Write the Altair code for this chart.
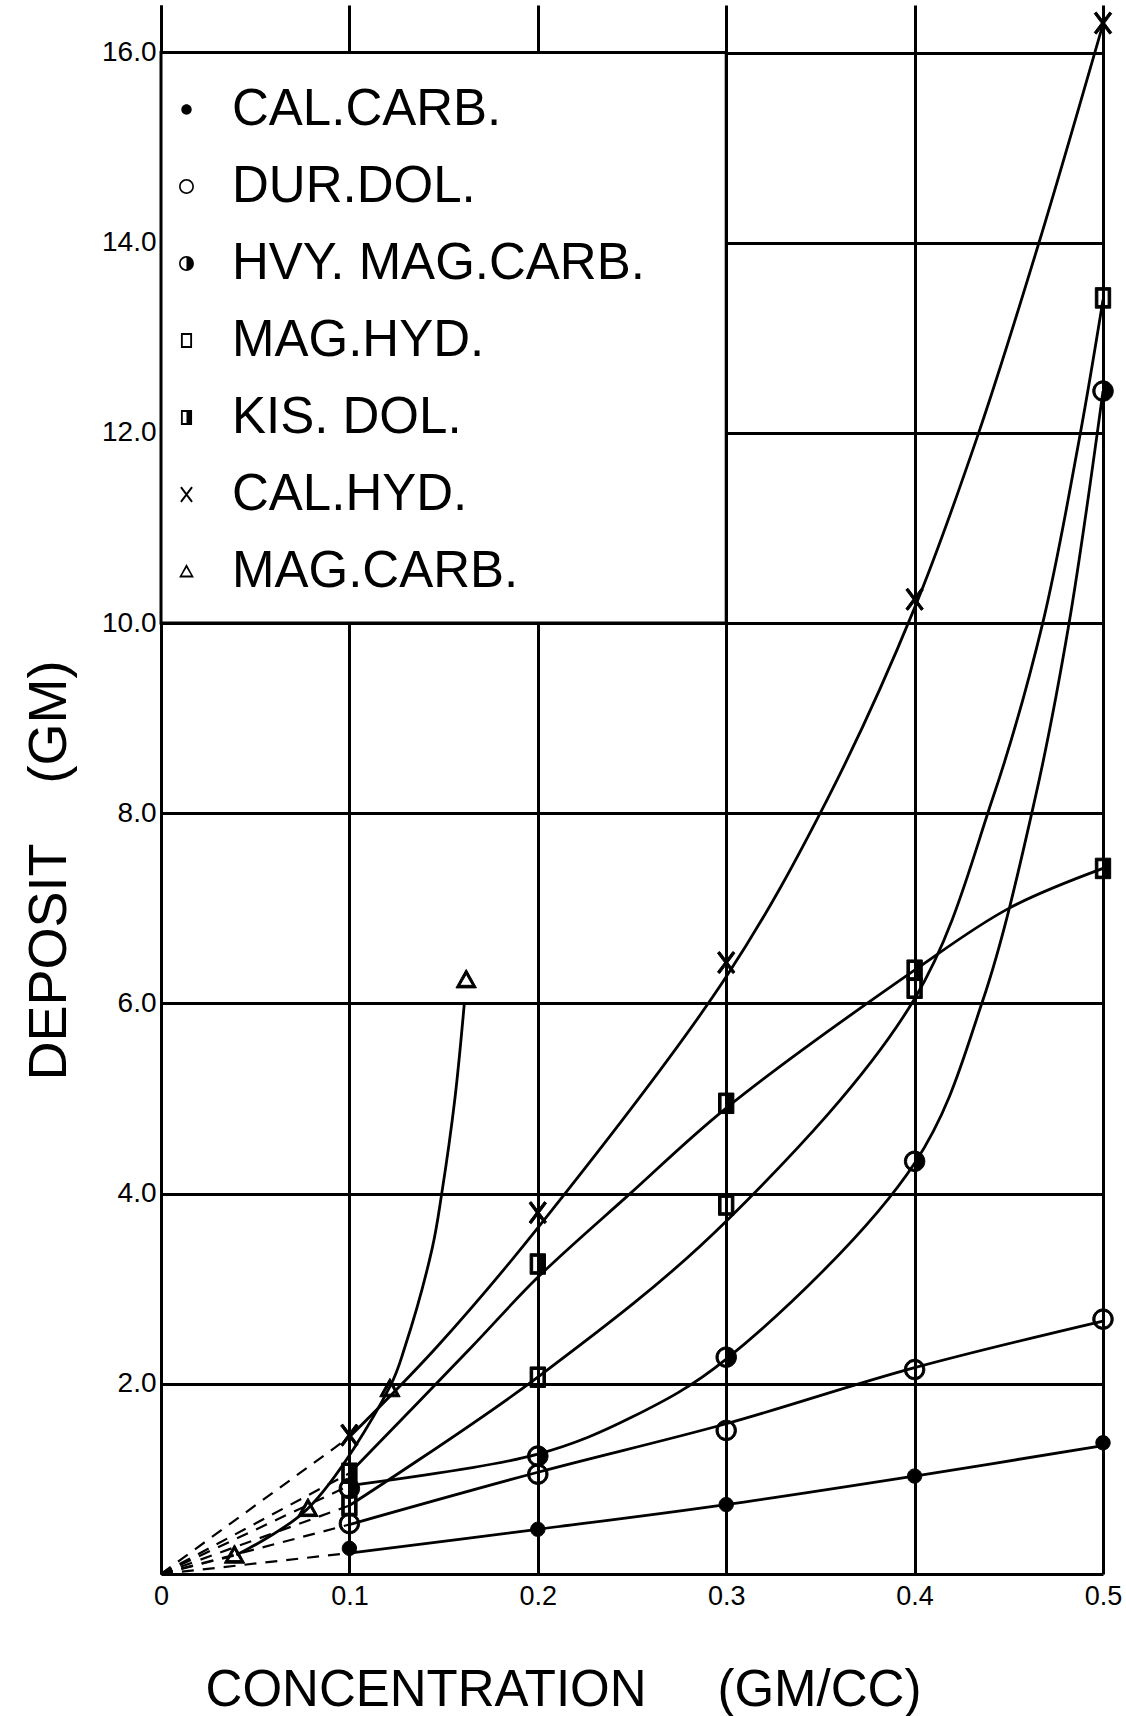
import altair as alt
import pandas as pd

# ---- data ----
series = ["CAL.CARB.", "DUR.DOL.", "HVY. MAG.CARB.", "MAG.HYD.", "KIS. DOL.", "CAL.HYD.", "MAG.CARB."]

conc = [0.1, 0.2, 0.3, 0.4, 0.5]
cal_carb_pts = [0.27, 0.47, 0.73, 1.03, 1.38]
dur_dol_pts = [0.53, 1.05, 1.51, 2.15, 2.68]
hvy_mag_carb_pts = [0.90, 1.24, 2.28, 4.34, 12.44]
mag_hyd_pts = [0.72, 2.07, 3.88, 6.16, 13.42]
kis_dol_pts = [1.06, 3.26, 4.95, 6.35, 7.42]
cal_hyd_pts = [1.46, 3.80, 6.43, 10.25, 16.31]
mag_carb_x = [0.039, 0.078, 0.1215, 0.162]
mag_carb_pts = [0.20, 0.69, 1.95, 6.25]

# hand-drawn fitted curves (x, y)
cal_carb_cx = [0.1, 0.2, 0.3, 0.4, 0.5]
cal_carb_cy = [0.22, 0.47, 0.73, 1.03, 1.35]
dur_dol_cx = [0.1, 0.2, 0.3, 0.4, 0.5]
dur_dol_cy = [0.52, 1.07, 1.58, 2.17, 2.66]
hvy_cx = [0.1, 0.2, 0.25, 0.3, 0.4, 0.436, 0.464, 0.482, 0.5]
hvy_cy = [0.93, 1.26, 1.65, 2.26, 4.32, 6.02, 8.16, 10.0, 12.44]
mag_hyd_cx = [0.1, 0.2, 0.3, 0.4, 0.4415, 0.468, 0.488, 0.5]
mag_hyd_cy = [0.72, 2.07, 3.71, 6.05, 8.16, 10.0, 12.0, 13.4]
kis_dol_cx = [0.1, 0.165, 0.2, 0.249, 0.3, 0.4, 0.45, 0.5]
kis_dol_cy = [1.06, 2.39, 3.12, 4.0, 4.9, 6.35, 7.0, 7.42]
cal_hyd_cx = [0.1, 0.1465, 0.2, 0.3, 0.354, 0.4, 0.434, 0.466, 0.5]
cal_hyd_cy = [1.44, 2.39, 3.64, 6.28, 8.16, 10.16, 12.0, 14.0, 16.3]
mag_carb_cx = [0.04, 0.078, 0.1215, 0.1295, 0.144, 0.149, 0.156, 0.161]
mag_carb_cy = [0.2, 0.69, 1.97, 2.39, 3.43, 4.0, 5.0, 6.0]

x_ticks = [0, 0.1, 0.2, 0.3, 0.4, 0.5]
y_ticks = [2, 4, 6, 8, 10, 12, 14, 16]
legend_box = {"x": [0.0], "x2": [0.3], "y": [10.0], "y2": [16.0]}

# ---- symbols (all drawn as filled outlines so the legend shows them too) ----
ring = "M-1,0A1,1 0 1,1 1,0A1,1 0 1,1 -1,0Z M-0.78,0A0.78,0.78 0 1,0 0.78,0A0.78,0.78 0 1,0 -0.78,0Z"
sq_ring = "M-0.75,-1H0.75V1H-0.75Z M-0.5,-0.75V0.75H0.5V-0.75Z"
x_mark = ("M-0.854,-0.922L0.646,1.078L0.854,0.922L-0.646,-1.078Z "
          "M-0.646,1.078L0.854,-0.922L0.646,-1.078L-0.854,0.922Z")
shapes = [
    "M-0.7,0A0.7,0.7 0 1,1 0.7,0A0.7,0.7 0 1,1 -0.7,0Z",
    ring,
    ring + " M0,-0.78A0.78,0.78 0 0,1 0,0.78Z",
    sq_ring,
    sq_ring + " M0,-0.75H0.5V0.75H0Z",
    x_mark,
    "M0,-1L1,0.8L-1,0.8Z M0,-0.52L-0.62,0.55L0.62,0.55Z",
]

# ---- tables ----
pt_x = [conc] * 6 + [mag_carb_x]
pt_y = [cal_carb_pts, dur_dol_pts, hvy_mag_carb_pts, mag_hyd_pts, kis_dol_pts, cal_hyd_pts, mag_carb_pts]
cv_x = [cal_carb_cx, dur_dol_cx, hvy_cx, mag_hyd_cx, kis_dol_cx, cal_hyd_cx, mag_carb_cx]
cv_y = [cal_carb_cy, dur_dol_cy, hvy_cy, mag_hyd_cy, kis_dol_cy, cal_hyd_cy, mag_carb_cy]

pts = pd.DataFrame([
    {"series": s, "x": xv, "y": yv}
    for s, xs_, ys_ in zip(series, pt_x, pt_y) for xv, yv in zip(xs_, ys_)
])
curves = pd.DataFrame([
    {"series": s, "x": xv, "y": yv, "o": i}
    for s, xs_, ys_ in zip(series, cv_x, cv_y) for i, (xv, yv) in enumerate(zip(xs_, ys_))
])
dashes = pd.DataFrame(
    [{"series": s, "x": 0.0, "y": 0.0, "o": 0} for s in series]
    + [{"series": s, "x": xs_[0], "y": ys_[0], "o": 1} for s, xs_, ys_ in zip(series, cv_x, cv_y)]
)
box = pd.DataFrame(legend_box)

FONT = "Liberation Sans"
xscale = alt.Scale(domain=[0, 0.5], nice=False, zero=False)
yscale = alt.Scale(domain=[0, 16.5], nice=False, zero=False)

xaxis = alt.Axis(
    values=x_ticks, grid=True, gridColor="black", gridWidth=3, gridOpacity=1,
    domain=True, domainColor="black", domainWidth=3, ticks=False,
    labelExpr="datum.value == 0 ? '0' : format(datum.value, '.1f')",
    labelFont=FONT, labelFontSize=27, labelColor="black", labelPadding=9,
    labelFlush=False, labelOverlap=False,
    title="CONCENTRATION\u00a0\u00a0\u00a0\u00a0\u00a0(GM/CC)",
    titleFont=FONT, titleFontSize=51, titleFontWeight="normal", titleColor="black",
    titleX=402, titleY=131, titleAlign="center", titleBaseline="alphabetic", titleAngle=0,
)
yaxis = alt.Axis(
    values=y_ticks, grid=True, gridColor="black", gridWidth=3, gridOpacity=1,
    domain=True, domainColor="black", domainWidth=3, ticks=False,
    format=".1f", labelFont=FONT, labelFontSize=28, labelColor="black", labelPadding=5,
    labelFlush=False, labelOverlap=False,
    title="DEPOSIT\u00a0\u00a0\u00a0\u00a0(GM)",
    titleFont=FONT, titleFontSize=54, titleFontWeight="normal", titleColor="black",
    titleX=-96, titleY=865, titleAlign="center", titleBaseline="alphabetic", titleAngle=270,
)

X = alt.X("x:Q", scale=xscale, axis=xaxis)
Y = alt.Y("y:Q", scale=yscale, axis=yaxis)

box_layer = alt.Chart(box).mark_rect(fill="white", stroke="black", strokeWidth=3).encode(
    x=X, x2="x2:Q", y=Y, y2="y2:Q"
)

dash_layer = alt.Chart(dashes).mark_line(
    color="black", strokeWidth=2.2, strokeDash=[12, 9]
).encode(x=X, y=Y, detail="series:N", order="o:Q")

line_layer = alt.Chart(curves).mark_line(
    color="black", strokeWidth=2.8, interpolate="catmull-rom"
).encode(x=X, y=Y, detail="series:N", order="o:Q")

point_layer = alt.Chart(pts).mark_point(
    filled=True, fill="black", stroke="black", strokeWidth=1, size=420, opacity=1
).encode(
    x=X, y=Y,
    shape=alt.Shape(
        "series:N",
        scale=alt.Scale(domain=series, range=shapes),
        legend=alt.Legend(
            title=None, orient="none", legendX=0, legendY=79, direction="vertical",
            labelFont=FONT, labelFontSize=51, labelColor="black", labelLimit=1000,
            labelOffset=20, rowPadding=25, padding=0, offset=0,
            symbolSize=220, symbolFillColor="black", symbolStrokeColor="black",
            symbolStrokeWidth=1, symbolOpacity=1,
        ),
    ),
)

chart = alt.layer(box_layer, dash_layer, line_layer, point_layer).properties(
    width=942, height=1569,
    padding={"left": 161, "top": 5, "right": 23, "bottom": 142},
    autosize=alt.AutoSizeParams(type="none"),
    background="white",
).configure_view(stroke=None)

chart.save("out.html", embed_options={"renderer": "svg", "actions": False})
